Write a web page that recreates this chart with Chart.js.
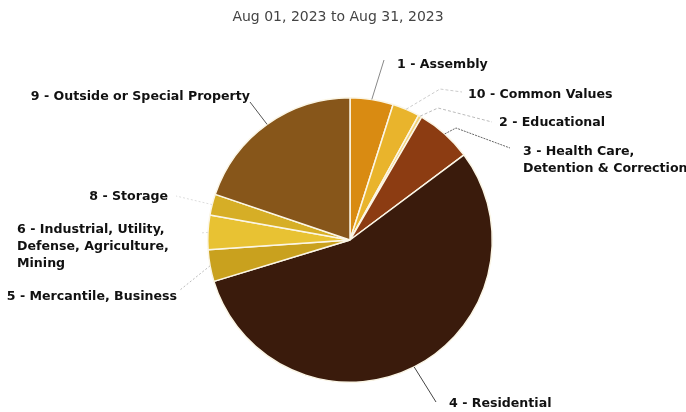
<!DOCTYPE html>
<html>
<head>
<meta charset="utf-8">
<script src="https://cdn.jsdelivr.net/npm/chart.js@4/dist/chart.umd.min.js"></script>
<style>
  html, body { margin: 0; padding: 0; background: #fff; }
  #wrap { width: 686px; height: 412px; position: relative; }
</style>
</head>
<body>
<div id="wrap"><canvas id="pie"></canvas></div>
<script>
// slices, clockwise from 12 o'clock
const categories = [
  ['1 - Assembly'],
  ['10 - Common Values'],
  ['2 - Educational'],
  ['3 - Health Care,', 'Detention & Correction'],
  ['4 - Residential'],
  ['5 - Mercantile, Business'],
  ['6 - Industrial, Utility,', 'Defense, Agriculture,', 'Mining'],
  ['8 - Storage'],
  ['9 - Outside or Special Property']
];
const percentages = [4.9, 3.1, 0.4, 6.4, 55.5, 3.6, 3.9, 2.4, 19.8];
const sliceColors = ['#d98b12', '#e9b42c', '#f1d27a', '#8c3c12', '#3a1b0c', '#c9a11e', '#e8c233', '#d6ae26', '#87561a'];
const subtitle = 'Aug 01, 2023 to Aug 31, 2023';

// where each label sits and where its leader line ends
const labelLayout = [
  { x: 397, y: 65, align: 'left', lx: 384, ly: 60, color: '#888' },
  { x: 468, y: 95, align: 'left', lx: 462, ly: 92, mid: [440, 89], color: '#ccc', dash: [3, 2] },
  { x: 499, y: 123, align: 'left', lx: 492, ly: 122, mid: [438, 108], color: '#bbb', dash: [3, 2] },
  { x: 523, y: 152, align: 'left', lx: 510, ly: 148, mid: [456, 128], color: '#666', dash: [2, 1] },
  { x: 449, y: 404, align: 'left', lx: 436, ly: 402, color: '#444' },
  { x: 177, y: 297, align: 'right', lx: 180, ly: 290, color: '#bbb', dash: [2, 2] },
  { x: 17, y: 230, align: 'left', lx: 200, ly: 233, color: '#ddd', dash: [2, 2] },
  { x: 168, y: 197, align: 'right', lx: 176, ly: 196, color: '#ddd', dash: [2, 2] },
  { x: 250, y: 97, align: 'right', lx: 250, ly: 102, color: '#555' }
];

const outsideLabels = {
  id: 'outsideLabels',
  afterDraw(chart) {
    const ctx = chart.ctx;
    const arcs = chart.getDatasetMeta(0).data;
    ctx.save();
    ctx.font = '14px "DejaVu Sans", sans-serif';
    ctx.fillStyle = '#444';
    ctx.textAlign = 'center';
    ctx.textBaseline = 'middle';
    ctx.fillText(subtitle, 338, 17);

    arcs.forEach((arc, i) => {
      const lay = labelLayout[i];
      const mid = (arc.startAngle + arc.endAngle) / 2;
      const sx = arc.x + Math.cos(mid) * arc.outerRadius;
      const sy = arc.y + Math.sin(mid) * arc.outerRadius;
      ctx.beginPath();
      ctx.strokeStyle = lay.color;
      ctx.lineWidth = 1;
      ctx.setLineDash(lay.dash || []);
      ctx.moveTo(sx, sy);
      if (lay.mid) ctx.lineTo(lay.mid[0], lay.mid[1]);
      ctx.lineTo(lay.lx, lay.ly);
      ctx.stroke();
      ctx.setLineDash([]);

      ctx.font = 'bold 12.6px "DejaVu Sans", sans-serif';
      ctx.fillStyle = '#111';
      ctx.textAlign = lay.align;
      categories[i].forEach((line, k) => {
        ctx.fillText(line, lay.x, lay.y + k * 17);
      });
    });
    ctx.restore();
  }
};

new Chart(document.getElementById('pie'), {
  type: 'pie',
  data: {
    labels: categories.map(c => c.join(' ')),
    datasets: [{
      data: percentages,
      backgroundColor: sliceColors,
      borderColor: '#fbf6e6',
      borderWidth: 1.5
    }]
  },
  options: {
    responsive: true,
    maintainAspectRatio: false,
    animation: false,
    layout: { padding: { top: 97, bottom: 29, left: 207, right: 193 } },
    plugins: {
      legend: { display: false },
      tooltip: { enabled: false }
    }
  },
  plugins: [outsideLabels]
});
</script>
</body>
</html>
